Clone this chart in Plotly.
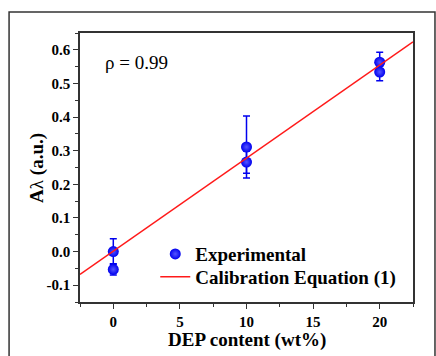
import plotly.graph_objects as go

# Data
dep_x = [0, 0, 10, 10, 20, 20]
absorb_y = [0.0, -0.053, 0.311, 0.266, 0.563, 0.534]
absorb_err = [0.038, 0.017, 0.092, 0.033, 0.030, 0.026]
calib_x = [-2.5, 22.5]
calib_y = [-0.068, 0.624]
x_ticks = [0, 5, 10, 15, 20]
y_ticks = [-0.1, 0.0, 0.1, 0.2, 0.3, 0.4, 0.5, 0.6]
y_tick_labels = ["-0.1", "0.0", "0.1", "0.2", "0.3", "0.4", "0.5", "0.6"]
x_title = "DEP content (wt%)"
y_title_parts = ("A", "λ", " (a.u.)")

serif = "Liberation Serif, Times New Roman, serif"

fig = go.Figure()
fig.add_trace(go.Scatter(
    x=dep_x, y=absorb_y, mode="markers",
    marker=dict(size=11, color="#0000ee",
                gradient=dict(type="radial", color="#5555ff"),
                line=dict(width=0)),
    error_y=dict(type="data", array=absorb_err, visible=True,
                 color="#0000ee", thickness=1.5, width=3.5),
    name="<b>Experimental</b>", legend="legend",
))
fig.add_trace(go.Scatter(
    x=calib_x, y=calib_y, mode="lines",
    line=dict(color="#ff1a1a", width=1.5),
    name="<b>Calibration Equation (1)</b>", legend="legend2",
))

axis_common = dict(
    showline=True, linecolor="#333333", linewidth=1.5, mirror=True,
    ticks="outside", ticklen=5, tickwidth=1.2, tickcolor="#333333",
    showgrid=False, zeroline=False, automargin=False,
)

fig.update_xaxes(
    range=[-2.5, 22.5], tickvals=x_ticks,
    ticktext=["<b>%d</b>" % v for v in x_ticks],
    tickfont=dict(family=serif, size=15, color="black"),
    minor=dict(ticks="outside", ticklen=3, dtick=2.5, tickcolor="#333333", tickwidth=1),
    **axis_common,
)
fig.update_yaxes(
    range=[-0.15, 0.65], tickvals=y_ticks,
    ticktext=["<b>%s</b>" % t for t in y_tick_labels],
    tickfont=dict(family=serif, size=15, color="black"),
    minor=dict(ticks="outside", ticklen=3, dtick=0.05, tickcolor="#333333", tickwidth=1),
    **axis_common,
)

# Axis titles as annotations
fig.add_annotation(
    xref="paper", yref="paper", x=0.503, y=-0.141, xanchor="center", yanchor="middle",
    text="<b>%s</b>" % x_title, showarrow=False,
    font=dict(family=serif, size=19, color="black"),
)
fig.add_annotation(
    xref="paper", yref="paper", x=-0.131, y=0.5, xanchor="center", yanchor="middle",
    text="<b>%s</b>%s<b>%s</b>" % y_title_parts, showarrow=False, textangle=-90,
    font=dict(family=serif, size=19, color="black"),
)

fig.add_annotation(
    xref="paper", yref="paper", x=0.069, y=0.89, xanchor="left", yanchor="middle",
    text="ρ = 0.99", showarrow=False,
    font=dict(family=serif, size=19, color="black"),
)

fig.add_shape(
    type="rect", xref="paper", yref="paper",
    x0=-0.213, x1=1.066, y0=-0.4, y1=1.078,
    line=dict(color="#333333", width=1.5), fillcolor="rgba(0,0,0,0)", layer="below",
)

legend_common = dict(
    xanchor="left", yanchor="middle",
    font=dict(family=serif, size=19, color="black"),
    bgcolor="rgba(0,0,0,0)",
)

fig.update_layout(
    width=436, height=356,
    margin=dict(l=80, r=23, t=33, b=54),
    paper_bgcolor="white", plot_bgcolor="white",
    showlegend=True,
    legend=dict(x=0.226, y=0.178, **legend_common),
    legend2=dict(x=0.226, y=0.093, **legend_common),
)

fig.write_html("out.html")
